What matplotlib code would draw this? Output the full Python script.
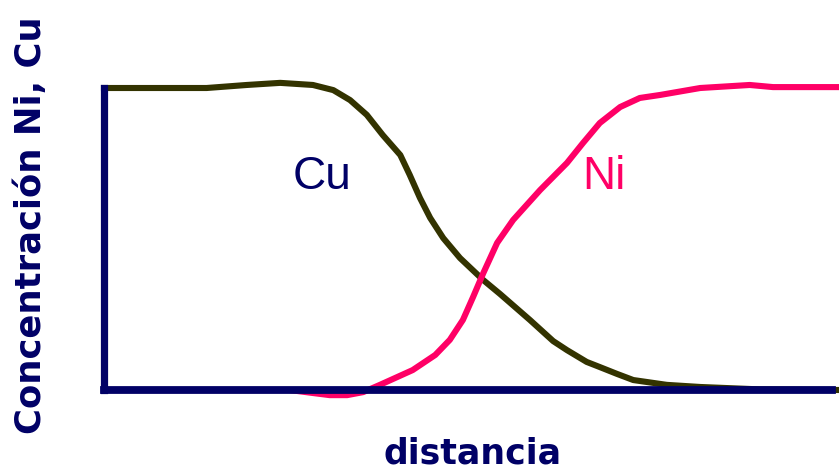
import matplotlib
matplotlib.use("Agg")
import matplotlib.pyplot as plt

# concentration profiles (distance and concentration in % of axis)
dist_cu = [0, 14.1, 19.6, 24.2, 28.7, 31.5, 33.8, 36.1, 38.3, 40.7, 42.0, 43.4, 44.8,
           46.6, 48.9, 52.1, 54.4, 58.5, 61.7, 63.6, 66.3, 68.1, 70.5, 72.7, 77.3,
           81.9, 90.1, 101.0]
conc_cu = [100, 100, 101, 101.7, 101, 99.3, 96.0, 91.1, 84.4, 77.8, 71.2, 63.6, 57.0,
           50.3, 43.7, 36.4, 31.8, 23.2, 16.2, 13.2, 9.3, 7.6, 5.3, 3.3, 1.7,
           1.0, 0.2, 0]

dist_ni = [0, 25.5, 28.7, 31.0, 33.4, 35.6, 37.9, 42.4, 45.5, 47.5, 49.3, 50.7, 52.1,
           54.0, 56.2, 59.9, 63.6, 65.8, 68.1, 70.9, 73.6, 76.4, 81.9, 88.7, 91.9, 101.0]
conc_ni = [0, 0, -1.0, -1.7, -1.7, -0.7, 1.7, 6.6, 11.6, 16.6, 23.2, 30.8, 38.7,
           48.7, 56.3, 66.2, 75.2, 81.8, 88.4, 93.7, 96.7, 97.7, 100, 101, 100.3, 100.3]

navy = "#000066"
olive = "#333300"
pink = "#ff0066"

fig = plt.figure(figsize=(8.39, 4.69), dpi=100)
ax = fig.add_axes([104/839, 79/469, 728/839, 302/469])

ax.plot(dist_cu, conc_cu, color=olive, lw=4.4, clip_on=False, solid_joinstyle="round")
ax.plot(dist_ni, conc_ni, color=pink, lw=4.4, clip_on=False, solid_joinstyle="round")

ax.set_xlim(0, 100)
ax.set_ylim(0, 100)
ax.spines["top"].set_visible(False)
ax.spines["right"].set_visible(False)
ax.spines["left"].set_color(navy)
ax.spines["bottom"].set_color(navy)
ax.spines["left"].set_linewidth(5.2)
ax.spines["bottom"].set_linewidth(5.6)
ax.set_xticks([])
ax.set_yticks([])

ax.text(29.9, 70.5, "Cu", color=navy, fontsize=33, family="Liberation Sans",
        ha="center", va="center")
ax.text(68.7, 70.5, "Ni", color=pink, fontsize=33, family="Liberation Sans",
        ha="center", va="center")

ax.set_xlabel("distancia", color=navy, fontsize=25, fontweight="bold")
ax.set_ylabel("Concentración Ni, Cu", color=navy, fontsize=25.5, fontweight="bold")
ax.xaxis.set_label_coords((473 - 104) / 728, -(436 - 390) / 302)
ax.yaxis.set_label_coords(-(104 - 48) / 728, (390 - 225) / 302)

plt.savefig("out.png", dpi=100)
